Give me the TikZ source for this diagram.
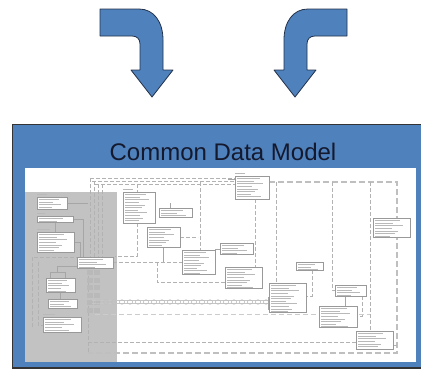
\documentclass[tikz,border=0pt]{standalone}
\usepackage{fontspec}
\setmainfont{Liberation Sans}
\definecolor{cdmblue}{RGB}{79,129,189}
\definecolor{cdmline}{RGB}{35,50,75}
\definecolor{cdmtext}{RGB}{20,25,45}
\definecolor{graybg}{RGB}{194,194,194}
\newcommand\erbox[4]{%
  \draw[erbox] (#1,#2) rectangle (#3,#4);
  \begin{scope}
    \clip (#1+1,#2+1) rectangle (#3-1,#4-1);
    \foreach \f [count=\i] in {0.75,0.55,0.85,0.5,0.7,0.6,0.45,0.8,0.55,0.65,0.5,0.7} {
      \draw[txt] (#1+2,#2+\i*2.6) -- ({#1+2+\f*(#3-#1-4)},#2+\i*2.6);
    }
  \end{scope}}
\begin{document}
\begin{tikzpicture}[x=1pt,y=-1pt,
  bluearrow/.style={fill=cdmblue,draw=cdmline,line width=0.8pt,line join=round},
  erbox/.style={fill=white,draw=gray!80,line width=0.7pt},
  txt/.style={draw=gray!55,line width=0.9pt},
  dl/.style={draw=gray!60,dash pattern=on 4pt off 2pt,line width=0.7pt},
  dlt/.style={draw=gray!50,dash pattern=on 6pt off 3pt,line width=1.3pt},
  sl/.style={draw=gray!70,line width=0.6pt}]
\useasboundingbox (0,0) rectangle (421,372);
\fill[white] (0,0) rectangle (421,372);

% curved arrows
\path[bluearrow] (100,9) -- (139,9) .. controls (154,9) and (163,22) .. (163,40) -- (163,70) -- (173,70) -- (152,97) -- (131,70) -- (140,70) -- (140,44) .. controls (140,39) and (137,36) .. (132,36) -- (100,36) -- cycle;
\path[bluearrow] (347,9) -- (308,9) .. controls (293,9) and (284,22) .. (284,40) -- (284,70) -- (274,70) -- (295,97) -- (316,70) -- (307,70) -- (307,44) .. controls (307,39) and (310,36) .. (315,36) -- (347,36) -- cycle;

% frame
\path[fill=cdmblue,draw=gray!40!black,line width=1.2pt] (12.5,124.5) rectangle (424,368);
\fill[white] (25,168) rectangle (416,362);
\fill[graybg] (25,192) rectangle (117,362);
\node[anchor=base,font=\fontsize{24}{28}\selectfont,text=cdmtext,inner sep=0] (title) at (223,160) {Common Data Model};

% top dashed lines
\draw[dl] (90,178) -- (235,178);
\draw[dl] (92,181) -- (235,181);
\draw[dl] (95,184) -- (235,184);
\draw[dlt] (269,182) -- (397,182) -- (397,353) -- (88,353);
\draw[dl] (88,342) -- (356,342);
\foreach \x/\y in {90/178,94/181,98/184,102/184} \draw[dl] (\x,\y) -- (\x,262);
\draw[dl] (88,270) -- (88,353);
\foreach \r in {0,...,5} \foreach \c in {0,1} \fill[gray!55] (87+\c*7,270+\r*7.5) rectangle ++(6,5);

% right region connectors
\draw[dl] (137,184) -- (137,192);
\draw[dl] (137,223) -- (137,256) -- (115,256);
\draw[dl] (113,262) -- (182,262);
\draw[sl] (163,247) -- (163,262);
\draw[dl] (157,262) -- (157,282) -- (225,282);
\draw[dl] (200,182) -- (200,250);
\draw[dl] (180,237) -- (198,237);
\draw[sl] (170,203) -- (170,208);
\draw[sl] (215,249) -- (222,249);
\draw[dl] (255,199) -- (255,267);
\draw[dl] (276,182) -- (276,283);
\draw[dl] (312,270) -- (312,296) -- (306,296);
\draw[dl] (332,182) -- (332,290) -- (335,290);
\draw[sl] (345,296) -- (345,306);
\draw[dl] (362,296) -- (362,316) -- (357,316);
\draw[dl] (370,182) -- (370,331);
\draw[dl] (393,345) -- (397,345);
\draw[draw=gray!40,dash pattern=on 5pt off 3pt,line width=0.8pt] (95,314) -- (370,314);
\draw[sl] (228,179) -- (235,179);
% chain
\draw[gray!45,line width=0.6pt] (92,300.5) -- (270,300.5) (92,303.5) -- (270,303.5);
\foreach \x in {94,102,...,262} \draw[gray!50,line width=0.6pt] (\x+4,302) ellipse (2.6 and 2.2);
\draw[gray!70,line width=2pt] (268.5,297) -- (268.5,310);

% gray region connectors
\draw[sl] (67,203) -- (88,203);
\draw[sl] (73,219) -- (83,219) -- (83,257);
\draw[sl] (55,222) -- (55,232);
\draw[sl] (74,242) -- (80,242) -- (80,257);
\draw[dl] (32,327) -- (32,257) -- (77,257);
\draw[dl] (38,262) -- (38,325) -- (43,325);
\draw[sl] (50,278) -- (50,272) -- (65,272) -- (65,278);
\draw[sl] (57,272) -- (57,266) -- (77,266);
\draw[sl] (60,292) -- (60,299);
\foreach \a/\b/\c in {37/47/194,37/45/213,37/50/229,43/55/314,123/133/189,235/245/173}
  \draw[txt] (\a,\c) -- (\b,\c);

% tables
\erbox{37}{197}{67}{209}
\erbox{37}{216}{73}{222}
\erbox{37}{232}{74}{252}
\erbox{77}{257}{113}{268}
\erbox{46}{278}{75}{292}
\erbox{48}{299}{77}{308}
\erbox{43}{317}{81}{332}
\erbox{123}{192}{155}{223}
\erbox{159}{208}{192}{217}
\erbox{147}{227}{180}{247}
\erbox{182}{250}{215}{274}
\erbox{235}{176}{269}{199}
\erbox{220}{243}{253}{254}
\erbox{225}{267}{262}{288}
\erbox{269}{283}{306}{312}
\erbox{296}{262}{323}{270}
\erbox{335}{285}{366}{296}
\erbox{319}{306}{357}{327}
\erbox{373}{218}{410}{237}
\erbox{356}{331}{393}{349}
\end{tikzpicture}
\end{document}
